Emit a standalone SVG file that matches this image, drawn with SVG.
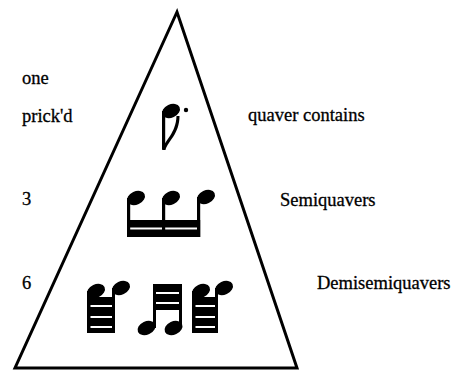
<svg xmlns="http://www.w3.org/2000/svg" xmlns:xlink="http://www.w3.org/1999/xlink" width="459" height="371" viewBox="0 0 459 371">
  <style>
    .lbl { font-family: "Liberation Serif", "Times New Roman", serif; font-size: 18.5px; fill: #000; stroke: #000; stroke-width: 0.3; }
    .ink { fill: #000; }
    .gap { fill: #fff; }
    .frame { fill: none; stroke: #000; stroke-width: 3; stroke-linejoin: miter; stroke-miterlimit: 10; }
  </style>
  <defs>
    <!-- filled note head, tilted -->
    <ellipse id="head" cx="0" cy="0" rx="9.4" ry="6.6" transform="rotate(-25)" class="ink"/>
  </defs>
  <rect width="459" height="371" fill="#fff"/>

  <g id="triangle">
    <polygon class="frame" points="177,12 15,368 297,368"/>
  </g>

  <g id="row-quaver">
    <text class="lbl" x="22" y="84">one</text>
    <text class="lbl" x="22" y="122">prick'd</text>
    <text class="lbl" x="248" y="121">quaver contains</text>
    <g id="dotted-quaver">
      <use xlink:href="#head" x="171" y="111"/>
      <rect class="ink" x="162" y="111" width="3.2" height="38"/>
      <path class="ink" d="M162,150 C165,140 176,133 176.5,116 L179.5,116 C179.5,134 168,141 165.5,150 Z"/>
      <circle class="ink" cx="186" cy="110" r="2.2"/>
    </g>
  </g>

  <g id="row-semiquavers">
    <text class="lbl" x="22" y="205">3</text>
    <text class="lbl" x="280" y="206">Semiquavers</text>
    <g id="semiquaver-group">
      <use xlink:href="#head" x="136" y="198"/>
      <use xlink:href="#head" x="171" y="198"/>
      <use xlink:href="#head" x="206" y="197"/>
      <rect class="ink" x="127" y="198" width="3.2" height="39"/>
      <rect class="ink" x="162" y="198" width="3.2" height="39"/>
      <rect class="ink" x="197" y="197" width="3.2" height="40"/>
      <rect class="ink" x="127" y="220" width="73.2" height="17"/>
      <rect class="gap" x="130.2" y="227.5" width="31.8" height="2"/>
      <rect class="gap" x="165.2" y="227.5" width="31.8" height="2"/>
    </g>
  </g>

  <g id="row-demisemiquavers">
    <text class="lbl" x="22" y="289">6</text>
    <text class="lbl" x="317" y="289">Demisemiquavers</text>

    <g id="demi-pair-left">
      <use xlink:href="#head" x="96" y="291"/>
      <use xlink:href="#head" x="121" y="288"/>
      <rect class="ink" x="87" y="291" width="3.5" height="42"/>
      <rect class="ink" x="112" y="288" width="3" height="45"/>
      <rect class="ink" x="87" y="297" width="28" height="36"/>
      <rect class="gap" x="90.5" y="305" width="21.5" height="2"/>
      <rect class="gap" x="90.5" y="316" width="21.5" height="2"/>
      <rect class="gap" x="90.5" y="326" width="21.5" height="2"/>
    </g>

    <g id="demi-pair-middle">
      <rect class="ink" x="153" y="284" width="29" height="26"/>
      <rect class="gap" x="156" y="292" width="23" height="2"/>
      <rect class="gap" x="156" y="302" width="23" height="2"/>
      <rect class="ink" x="153" y="284" width="3" height="44"/>
      <rect class="ink" x="179" y="284" width="3" height="44"/>
      <use xlink:href="#head" x="146.5" y="328"/>
      <use xlink:href="#head" x="173.5" y="328"/>
    </g>

    <g id="demi-pair-right">
      <use xlink:href="#head" x="201" y="291"/>
      <use xlink:href="#head" x="224" y="288"/>
      <rect class="ink" x="192" y="291" width="3.5" height="42"/>
      <rect class="ink" x="215" y="288" width="3" height="45"/>
      <rect class="ink" x="192" y="297" width="26" height="36"/>
      <rect class="gap" x="195.5" y="305" width="19.5" height="2"/>
      <rect class="gap" x="195.5" y="316" width="19.5" height="2"/>
      <rect class="gap" x="195.5" y="326" width="19.5" height="2"/>
    </g>
  </g>
</svg>
